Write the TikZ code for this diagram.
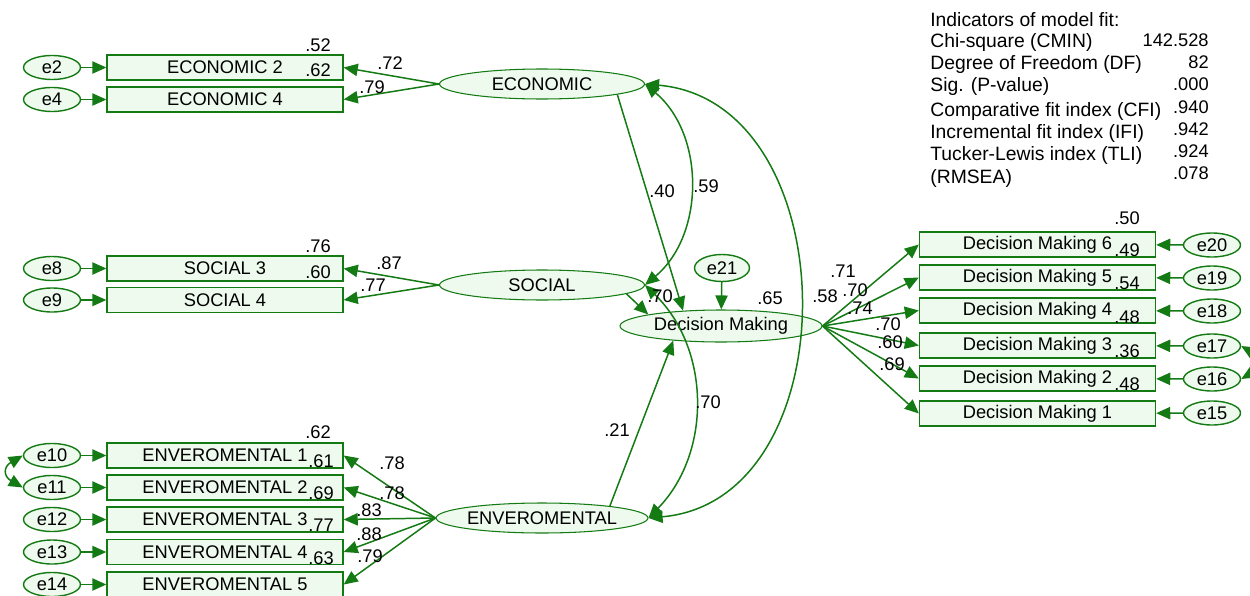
\documentclass[tikz,border=0pt]{standalone}
\usepackage{fontspec}
\setmainfont{Liberation Sans}
\usetikzlibrary{shapes.geometric,arrows.meta}
\definecolor{amosgreen}{RGB}{20,122,20}
\definecolor{amosfill}{RGB}{237,250,237}
\tikzset{%
    every node/.style={font=\fontsize{10.4}{12}\selectfont, inner sep=0pt},
    fit/.style={anchor=west, font=\fontsize{11}{13}\selectfont},
    obs/.style={rectangle, draw=amosgreen, fill=amosfill, line width=.8pt,
    	minimum width=4.72cm, minimum height=.5cm},
    err/.style={ellipse, draw=amosgreen, fill=amosfill, line width=.8pt,
    	minimum width=1.14cm, minimum height=.48cm},
    lat/.style={ellipse, draw=amosgreen, fill=amosfill, line width=.6pt,
    	minimum width=4.1cm, minimum height=.6cm},
    reg/.style={draw=amosgreen, line width=.85pt,
    	-{Triangle[length=8pt, width=7pt]}},
    cov/.style={draw=amosgreen, line width=.85pt,
    	{Triangle[length=8pt, width=7pt]}-{Triangle[length=8pt, width=7pt]}}
}

\begin{document}
\begin{tikzpicture}[x=0.02cm, y=-0.02cm]
  \useasboundingbox (0,0) rectangle (1250,595);

  % latent variables
  \node (econ) [lat] at (542,84) {ECONOMIC};
  \node (soc) [lat] at (542,285) {SOCIAL};
  \node (env) [lat] at (542,518) {ENVEROMENTAL};
  \node (dm) [lat, minimum width=4.04cm, minimum height=.64cm] at (721,326) {Decision Making};
  \node (e21) [err, minimum width=1.1cm, minimum height=.54cm] at (722,268) {e21};

  % left indicators
  \node (ec2) [obs] at (225,67.5) {ECONOMIC 2};
  \node (ec4) [obs] at (225,99.5) {ECONOMIC 4};
  \node (so3) [obs] at (225,268.5) {SOCIAL 3};
  \node (so4) [obs] at (225,300) {SOCIAL 4};
  \node (en1) [obs] at (225,455.5) {ENVEROMENTAL 1};
  \node (en2) [obs] at (225,487.5) {ENVEROMENTAL 2};
  \node (en3) [obs] at (225,519.5) {ENVEROMENTAL 3};
  \node (en4) [obs] at (225,552) {ENVEROMENTAL 4};
  \node (en5) [obs] at (225,584.5) {ENVEROMENTAL 5};

  \node (e2) [err] at (52,67.5) {e2};
  \node (e4) [err] at (52,99.5) {e4};
  \node (e8) [err] at (52,268.5) {e8};
  \node (e9) [err] at (52,300) {e9};
  \node (e10) [err] at (52,455.5) {e10};
  \node (e11) [err] at (52,487.5) {e11};
  \node (e12) [err] at (52,519.5) {e12};
  \node (e13) [err] at (52,552) {e13};
  \node (e14) [err] at (52,584.5) {e14};

  % right indicators
  \node (dm6) [obs] at (1037.5,244.5) {Decision Making 6};
  \node (dm5) [obs] at (1037.5,277.5) {Decision Making 5};
  \node (dm4) [obs] at (1037.5,310.5) {Decision Making 4};
  \node (dm3) [obs] at (1037.5,345.5) {Decision Making 3};
  \node (dm2) [obs] at (1037.5,378.5) {Decision Making 2};
  \node (dm1) [obs] at (1037.5,413.5) {Decision Making 1};

  \node (e20) [err] at (1212,245) {e20};
  \node (e19) [err] at (1212,278) {e19};
  \node (e18) [err] at (1212,311) {e18};
  \node (e17) [err] at (1212,346) {e17};
  \node (e16) [err] at (1212,379) {e16};
  \node (e15) [err] at (1212,413) {e15};

  % errors
  \draw (e2) edge[reg] (ec2);
  \draw (e4) edge[reg] (ec4);
  \draw (e8) edge[reg] (so3);
  \draw (e9) edge[reg] (so4);
  \draw (e10) edge[reg] (en1);
  \draw (e11) edge[reg] (en2);
  \draw (e12) edge[reg] (en3);
  \draw (e13) edge[reg] (en4);
  \draw (e14) edge[reg] (en5);
  \draw (e20) edge[reg] (dm6);
  \draw (e19) edge[reg] (dm5);
  \draw (e18) edge[reg] (dm4);
  \draw (e17) edge[reg] (dm3);
  \draw (e16) edge[reg] (dm2);
  \draw (e15) edge[reg] (dm1);
  \draw (e21) edge[reg] (dm);

  % loadings
  \draw (econ.west) edge[reg] (ec2.east);
  \draw (econ.west) edge[reg] (ec4.east);
  \draw (soc.west) edge[reg] (so3.east);
  \draw (soc.west) edge[reg] (so4.east);
  \draw (env.west) edge[reg] (en1.east);
  \draw (env.west) edge[reg] (en2.east);
  \draw (env.west) edge[reg] (en3.east);
  \draw (env.west) edge[reg] (en4.east);
  \draw (env.west) edge[reg] (en5.east);
  \draw (dm.east) edge[reg] (dm6.west);
  \draw (dm.east) edge[reg] (dm5.west);
  \draw (dm.east) edge[reg] (dm4.west);
  \draw (dm.east) edge[reg] (dm3.west);
  \draw (dm.east) edge[reg] (dm2.west);
  \draw (dm.east) edge[reg] (dm1.west);

  % structural paths
  \draw (econ.-8) edge[reg] (dm.158);
  \draw (soc.-6) edge[reg] (dm.171);
  \draw (env.10) edge[reg] (dm.197);

  % covariances
  \draw (econ.east) edge[cov, bend left=50] (soc.east);
  \draw (econ.east) edge[cov, out=-5, in=5, looseness=1.2] (env.east);
  \draw (soc.east) edge[cov, bend left=45] (env.east);
  \draw (e10.west) edge[cov, out=210, in=150, looseness=1.8] (e11.west);
  \draw (e17.east) edge[cov, out=-30, in=30, looseness=1.8] (e16.east);

  % estimates
  \node (r1) at (318,45) {.52};
  \node (r2) at (318,70) {.62};
  \node (l1) at (390,63) {.72};
  \node (l2) at (372,87) {.79};
  \node (r3) at (318,246) {.76};
  \node (r4) at (318,272) {.60};
  \node (l3) at (389,263) {.87};
  \node (l4) at (373,285) {.77};
  \node (r5) at (318,432) {.62};
  \node (r6) at (321,461) {.61};
  \node (r7) at (321,493) {.69};
  \node (r8) at (321,525) {.77};
  \node (r9) at (321,558) {.63};
  \node (l5) at (392,463) {.78};
  \node (l6) at (392,493) {.78};
  \node (l7) at (369,510) {.83};
  \node (l8) at (369,534) {.88};
  \node (l9) at (370,556) {.79};
  \node (b1) at (662,191) {.40};
  \node (c1) at (706,186) {.59};
  \node (b2) at (660,296) {.70};
  \node (c2) at (770,298) {.65};
  \node (r10) at (825,296) {.58};
  \node (b3) at (617,430) {.21};
  \node (c3) at (708,402) {.70};
  \node (l10) at (843,271) {.71};
  \node (l11) at (855,290) {.70};
  \node (l12) at (860,308) {.74};
  \node (l13) at (888,324) {.70};
  \node (l14) at (890,342) {.60};
  \node (l15) at (892,364) {.69};
  \node (r11) at (1127,218) {.50};
  \node (r12) at (1127,250) {.49};
  \node (r13) at (1127,283) {.54};
  \node (r14) at (1127,317) {.48};
  \node (r15) at (1127,351) {.36};
  \node (r16) at (1127,384) {.48};

  % model fit
  \node (f0) [fit] at (930,20) {Indicators of model fit:};
  \node (f1) [fit] at (930,43) {Chi-square (CMIN)};
  \node (f2) [fit] at (930,65) {Degree of Freedom (DF)};
  \node (f3) [fit] at (930,87) {Sig. (P-value)};
  \node (f4) [fit] at (930,112) {Comparative fit index (CFI)};
  \node (f5) [fit] at (930,133) {Incremental fit index (IFI)};
  \node (f6) [fit] at (930,155) {Tucker-Lewis index (TLI)};
  \node (f7) [fit] at (930,178) {(RMSEA)};
  \node (v1) [anchor=east] at (1209,40) {142.528};
  \node (v2) [anchor=east] at (1209,62) {82};
  \node (v3) [anchor=east] at (1209,84) {.000};
  \node (v4) [anchor=east] at (1209,107) {.940};
  \node (v5) [anchor=east] at (1209,129) {.942};
  \node (v6) [anchor=east] at (1209,151) {.924};
  \node (v7) [anchor=east] at (1209,173) {.078};
\end{tikzpicture}
\end{document}
